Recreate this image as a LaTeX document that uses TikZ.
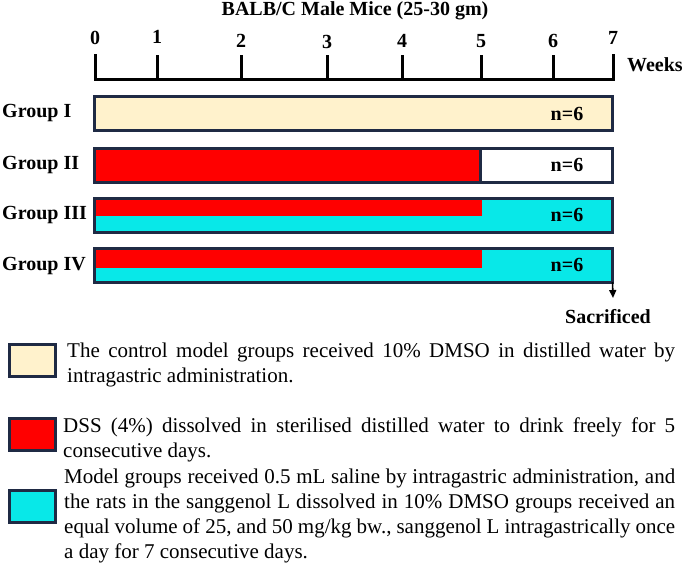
\documentclass[tikz,border=0pt]{standalone}
\usepackage{fontspec}
\setmainfont{LiberationSerif}[Extension=.ttf, UprightFont=*-Regular,
    BoldFont=*-Bold, ItalicFont=*-Italic, BoldItalicFont=*-BoldItalic]
\usetikzlibrary{arrows.meta,positioning}
\definecolor{navy}{HTML}{1F2A44}
\definecolor{cream}{HTML}{FFF2CC}
\definecolor{dssred}{HTML}{FF0000}
\definecolor{aqua}{HTML}{08E8E8}

\begin{document}
\begin{tikzpicture}[x=1pt, y=-1pt,
    lbl/.style={font=\fontsize{20}{24}\selectfont\bfseries, inner sep=0pt},
    bar/.style={minimum width=518pt, minimum height=34pt, inner sep=0pt,
        outer sep=0pt, anchor=north west},
    edge/.style={draw=navy, line width=3pt},
    key/.style={minimum width=46pt, minimum height=32pt, inner sep=0pt,
        outer sep=0pt, draw=navy, line width=3pt},
    note/.style={font=\fontsize{21}{25}\selectfont, inner sep=0pt,
        align=justify, anchor=base west}]

    \useasboundingbox (0,0) rectangle (685,565);

    % Title and time axis
    \node[lbl] (title) at (355,11) {BALB/C Male Mice (25-30 gm)};
    \draw[line width=3pt, line cap=rect] (95,55) -- (95,79) -- (613,79) -- (613,55);
    \foreach \x/\w/\yy in {95/0/38, 157/1/37, 241/2/41, 327/3/42,
                            402/4/41, 481/5/41, 553/6/41, 613/7/38}
    {
        \draw[line width=3pt] (\x,55) -- (\x,79);
        \node[lbl] (wk\w) at (\x,\yy) {\w};
    }
    \node[lbl, anchor=west] (weeks) at (627,65) {Weeks};

    % Group bars
    \node[bar, fill=cream] (bar1) at (94.5,96.5) {};
    \node[bar, fill=white] (bar2) at (94.5,148) {};
    \node[bar, fill=aqua] (bar3) at (94.5,198) {};
    \node[bar, fill=aqua] (bar4) at (94.5,248) {};

    \fill[dssred] (bar2.north west) rectangle (480,182);
    \fill[dssred] (bar3.north west) rectangle (482,216);
    \fill[dssred] (bar4.north west) rectangle (482,268);

    \foreach \b in {bar1,bar2,bar3,bar4}
        \draw[edge] (\b.north west) rectangle (\b.south east);
    \draw[edge] (480,148) -- (480,182);

    % Group labels
    \node[lbl, anchor=west] (grp1) at (2,113.5) {Group I};
    \node[lbl, anchor=west] (grp2) at (2,165) {Group II};
    \node[lbl, anchor=west] (grp3) at (2,215) {Group III};
    \node[lbl, anchor=west] (grp4) at (2,266) {Group IV};

    \foreach \b in {bar1,bar2,bar3,bar4}
        \node[lbl] (n\b) at (567,0 |- \b.center) {n=6};

    % Sacrificed
    \node[lbl] (sac) at (608,317) {Sacrificed};
    \coordinate (sacend) at (613,298);
    \draw[line width=1.6pt, -{Triangle[length=8pt,width=7pt]}] (bar4.south east) -- (sacend);

    % Legend
    \node[key, fill=cream, anchor=north west] (key1) at (9.5,344.5) {};
    \node[key, fill=dssred, anchor=north west] (key2) at (9.5,418.5) {};
    \node[key, fill=aqua, anchor=north west] (key3) at (9.5,490.5) {};

    \node[note, text width=608pt] (txt1) at (67,357)
        {The control model groups received 10\% DMSO in distilled water by\linebreak
         intragastric administration.};
    \node[note, text width=612pt] (txt2) at (63,432)
        {DSS (4\%) dissolved in sterilised distilled water to drink freely for 5\linebreak
         consecutive days.};
    \node[note, text width=611pt] (txt3) at (64,483)
        {Model groups received 0.5 mL saline by intragastric administration, and\linebreak
         the rats in the sanggenol L dissolved in 10\% DMSO groups received an\linebreak
         equal volume of 25, and 50 mg/kg bw., sanggenol L intragastrically once\linebreak
         a day for 7 consecutive days.};

\end{tikzpicture}
\end{document}
